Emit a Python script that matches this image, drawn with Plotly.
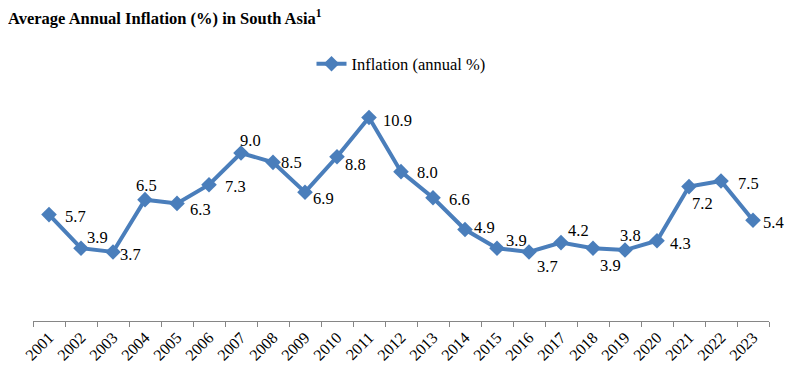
import plotly.graph_objects as go

years = [str(y) for y in range(2001, 2024)]
inflation = [5.7, 3.9, 3.7, 6.5, 6.3, 7.3, 9.0, 8.5, 6.9, 8.8, 10.9, 8.0,
             6.6, 4.9, 3.9, 3.7, 4.2, 3.9, 3.8, 4.3, 7.2, 7.5, 5.4]
labels = [f"{v:.1f}" for v in inflation]

# label offsets in pixels (dx right, dy down), manual placement as in reference
label_dx = [26, 16, 17, 1, 23, 26, 9, 18, 18, 18, 28, 26, 26, 19, 19, 18, 17, 17, 5, 23, 13, 27, 20]
label_dy = [2, -11, 3, -14, 6, 2, -13, 0, 6, 8, 3, 1, 2, -2, -8, 15, -12, 17, -15, 3, 17, 2, 2]

color = "#4A7EBB"
font_family = "Liberation Serif"

fig = go.Figure()
fig.add_trace(go.Scatter(
    x=years, y=inflation, mode="lines+markers",
    name="Inflation (annual %)",
    line=dict(color=color, width=4),
    marker=dict(symbol="diamond", size=12, color=color),
))

for i, (v, t, dx, dy) in enumerate(zip(inflation, labels, label_dx, label_dy)):
    fig.add_annotation(x=i, y=v, text=t, showarrow=False,
                       xshift=dx, yshift=-dy,
                       font=dict(family=font_family, size=16.5, color="#000000"))

fig.update_layout(
    width=795, height=372,
    margin=dict(l=25, r=34, t=89, b=59),
    paper_bgcolor="white", plot_bgcolor="white",
    font=dict(family=font_family, size=16, color="#000000"),
    title=dict(text="<b>Average Annual Inflation (%) in South Asia<sup>1</sup></b>",
               xref="container", x=0.0, xanchor="left",
               yref="container", y=1 - 10 / 372, yanchor="middle",
               font=dict(family=font_family, size=16.5, color="#000000")),
    showlegend=True,
    legend=dict(orientation="h", x=0.5, xanchor="center", y=1.147, yanchor="middle",
                font=dict(family=font_family, size=16.5), bgcolor="rgba(0,0,0,0)"),
    xaxis=dict(type="category", range=[-0.5, len(years) - 0.5], autorange=False,
               automargin=False,
               showline=True, linecolor="#868686", linewidth=1,
               ticks="outside", tickson="boundaries", ticklen=5, tickcolor="#868686",
               tickangle=-45, showgrid=False, zeroline=False,
               tickfont=dict(family=font_family, size=16)),
    yaxis=dict(range=[0, 12], visible=False, showgrid=False, zeroline=False,
               automargin=False),
)

fig.write_html("out.html")
